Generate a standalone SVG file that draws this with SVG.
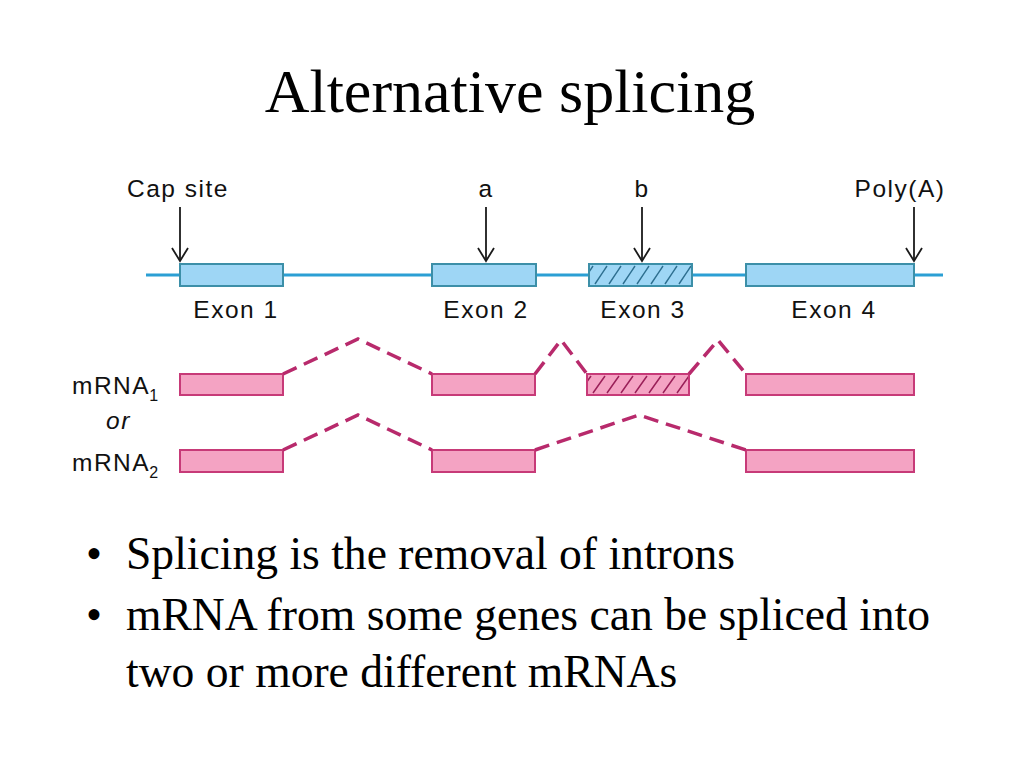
<svg xmlns="http://www.w3.org/2000/svg" width="1024" height="768" viewBox="0 0 1024 768">
<style>
.title{font-family:"Liberation Serif","Times New Roman",serif;font-size:62px;fill:#000}
.bullet{font-family:"Liberation Serif","Times New Roman",serif;font-size:45.6px;fill:#000}
.lbl{font-family:"Liberation Sans",Arial,sans-serif;font-size:24.5px;letter-spacing:1.5px;fill:#111}
.sub{font-family:"Liberation Sans",Arial,sans-serif;font-size:16px;fill:#111}
.gene{stroke:#2b9fd4;stroke-width:3;fill:none}
.exon{fill:#9ed6f5;stroke:#3c8fa8;stroke-width:2}
.mexon{fill:#f4a3c3;stroke:#c73a78;stroke-width:2}
.splice{fill:none;stroke:#b82a6c;stroke-width:3.5;stroke-dasharray:15 8;stroke-linejoin:miter}
.arrow{stroke:#1a1a1a;stroke-width:1.8;fill:none}
</style>
<defs>
<marker id="openArrow" markerWidth="20" markerHeight="20" refX="16" refY="10" orient="auto" markerUnits="userSpaceOnUse" viewBox="0 0 20 20">
<path d="M3,2 L16,10 L3,18" fill="none" stroke="#1a1a1a" stroke-width="1.8"/>
</marker>
<pattern id="hatchBlue" patternUnits="userSpaceOnUse" x="589" y="264" width="14" height="22">
<path d="M-8,20 L4,2 M6,20 L18,2" stroke="#2d6f90" stroke-width="1.5" fill="none"/>
</pattern>
<pattern id="hatchPink" patternUnits="userSpaceOnUse" x="587" y="374" width="14" height="21">
<path d="M-8,19 L4,2 M6,19 L18,2" stroke="#9a1f58" stroke-width="1.5" fill="none"/>
</pattern>
</defs>
<rect width="1024" height="768" fill="#fff"/>
<text class="title" x="510" y="112" text-anchor="middle">Alternative splicing</text>

<g id="gene">
<line class="gene" x1="146" y1="275" x2="943" y2="275"/>
</g>
<g id="exon1"><rect class="exon" x="180" y="264" width="103" height="22"/><text class="lbl" x="236" y="318" text-anchor="middle">Exon 1</text></g>
<g id="exon2"><rect class="exon" x="432" y="264" width="104" height="22"/><text class="lbl" x="486" y="318" text-anchor="middle">Exon 2</text></g>
<g id="exon3"><rect class="exon" x="589" y="264" width="103" height="22"/><rect x="589" y="264" width="103" height="22" fill="url(#hatchBlue)" stroke="#3c8fa8" stroke-width="2"/><text class="lbl" x="643" y="318" text-anchor="middle">Exon 3</text></g>
<g id="exon4"><rect class="exon" x="746" y="264" width="168" height="22"/><text class="lbl" x="834" y="318" text-anchor="middle">Exon 4</text></g>

<g id="capsite"><text class="lbl" x="178" y="197" text-anchor="middle">Cap site</text></g>
<g id="site-a"><text class="lbl" x="486" y="197" text-anchor="middle">a</text></g>
<g id="site-b"><text class="lbl" x="642" y="197" text-anchor="middle">b</text></g>
<g id="polyA"><text class="lbl" x="900" y="197" text-anchor="middle">Poly(A)</text></g>

<g id="mrna-labels">
<text class="lbl" x="72" y="394">mRNA<tspan class="sub" dx="-1" dy="7" style="letter-spacing:0">1</tspan></text>
<text class="lbl" x="106" y="429" font-style="italic">or</text>
<text class="lbl" x="72" y="471">mRNA<tspan class="sub" dx="-1" dy="7" style="letter-spacing:0">2</tspan></text>
</g>

<g id="mrna1">
<rect class="mexon" x="180" y="374" width="103" height="21"/>
<rect class="mexon" x="432" y="374" width="103" height="21"/>
<rect class="mexon" x="587" y="374" width="102" height="21"/>
<rect x="587" y="374" width="102" height="21" fill="url(#hatchPink)" stroke="#c73a78" stroke-width="2"/>
<rect class="mexon" x="746" y="374" width="168" height="21"/>
</g>
<g id="mrna2">
<rect class="mexon" x="180" y="450" width="103" height="22"/>
<rect class="mexon" x="432" y="450" width="103" height="22"/>
<rect class="mexon" x="746" y="450" width="168" height="22"/>
</g>

<g id="connectors">
<line class="arrow" x1="180" y1="207" x2="180" y2="261" marker-end="url(#openArrow)"/>
<line class="arrow" x1="486" y1="207" x2="486" y2="261" marker-end="url(#openArrow)"/>
<line class="arrow" x1="642" y1="207" x2="642" y2="261" marker-end="url(#openArrow)"/>
<line class="arrow" x1="914" y1="207" x2="914" y2="261" marker-end="url(#openArrow)"/>
<polyline class="splice" points="283,374 358,339 432,374"/>
<polyline class="splice" points="535,374 561,340 587,374"/>
<polyline class="splice" points="689,374 718,340 746,374"/>
<polyline class="splice" points="283,450 358,415 432,450"/>
<polyline class="splice" points="535,450 639,415 746,450"/>
</g>

<g id="bullets">
<text class="bullet" x="86" y="569">•</text>
<text class="bullet" x="126" y="569">Splicing is the removal of introns</text>
<text class="bullet" x="86" y="630">•</text>
<text class="bullet" x="126" y="630">mRNA from some genes can be spliced into</text>
<text class="bullet" x="126" y="687">two or more different mRNAs</text>
</g>
</svg>
